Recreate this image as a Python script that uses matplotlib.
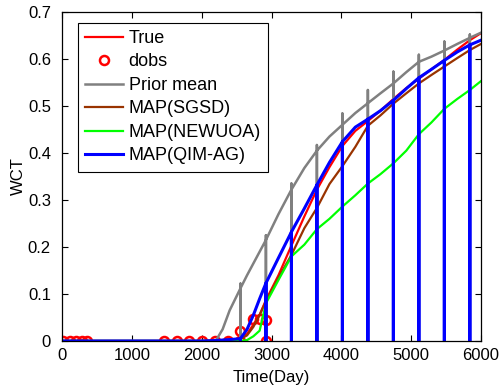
import numpy as np
import matplotlib
matplotlib.use("Agg")
import matplotlib.pyplot as plt
from matplotlib.ticker import FormatStrFormatter

plt.rcParams["font.family"] = ["Liberation Sans", "DejaVu Sans"]

# time grid (days) shared by all simulated curves
days = [0, 1000, 2000, 2200, 2300, 2400, 2555, 2650, 2740, 2830, 2920, 3100,
        3285, 3470, 3650, 3830, 4015, 4200, 4380, 4560, 4745, 4930, 5110,
        5290, 5475, 5660, 5840, 6000]

# report times where the curves drop to zero
report_days = [2555, 2920, 3285, 3650, 4015, 4380, 4745, 5110, 5475, 5840]

wct_true = [0, 0, 0, 0.001, 0.002, 0.003, 0.005, 0.015, 0.035, 0.056, 0.087, 0.14,
            0.203, 0.265, 0.322, 0.37, 0.415, 0.447, 0.468, 0.49, 0.515, 0.538,
            0.558, 0.578, 0.598, 0.62, 0.64, 0.655]
wct_prior = [0, 0, 0, 0, 0.025, 0.065, 0.112, 0.14, 0.165, 0.19, 0.215, 0.27,
             0.322, 0.368, 0.405, 0.435, 0.46, 0.485, 0.506, 0.527, 0.548, 0.572,
             0.594, 0.605, 0.618, 0.632, 0.645, 0.656]
prior_tops = [0.122, 0.225, 0.335, 0.417, 0.484, 0.534, 0.573, 0.609, 0.637, 0.652]
wct_sgsd = [0, 0, 0, 0.001, 0.002, 0.003, 0.004, 0.012, 0.03, 0.055, 0.085, 0.135,
            0.183, 0.24, 0.283, 0.334, 0.372, 0.413, 0.458, 0.48, 0.505, 0.527,
            0.548, 0.566, 0.584, 0.602, 0.619, 0.632]
wct_newuoa = [0, 0, 0, 0, 0, 0, 0, 0.002, 0.01, 0.022, 0.08, 0.13,
              0.18, 0.205, 0.238, 0.26, 0.286, 0.31, 0.335, 0.355, 0.378, 0.405,
              0.44, 0.465, 0.494, 0.515, 0.534, 0.553]
wct_qim = [0, 0, 0, 0.001, 0.002, 0.003, 0.005, 0.025, 0.055, 0.09, 0.123, 0.177,
           0.232, 0.282, 0.332, 0.38, 0.424, 0.455, 0.472, 0.49, 0.512, 0.537,
           0.56, 0.578, 0.597, 0.615, 0.63, 0.64]

dobs_days = [20, 110, 200, 280, 360, 1460, 1643, 1825, 2008, 2190, 2373, 2555,
             2555, 2740, 2830, 2920, 2920]
dobs_wct = [0, 0, 0, 0, 0, 0, 0, 0, 0, 0, 0, 0,
            0.022, 0.047, 0.046, 0.045, 0]


def with_spikes(t, v, tops=None):
    xs, ys = [], []
    k = 0
    for ti, vi in zip(t, v):
        if ti in report_days:
            top = tops[k] if tops is not None else vi
            k += 1
            xs += [ti, ti, ti, ti]
            ys += [vi, top, 0, vi]
        else:
            xs.append(ti)
            ys.append(vi)
    return xs, ys


fig = plt.figure(figsize=(5.01, 3.92), dpi=100)
ax = fig.add_axes([0.1238, 0.1301, 0.8363, 0.8393])

ax.plot(*with_spikes(days, wct_true), color="#ff0000", lw=1.6, label="True")
ax.plot(dobs_days, dobs_wct, "o", mfc="none", mec="#ff0000", mew=1.8, ms=6.5,
        label="dobs")
ax.plot(*with_spikes(days, wct_prior, prior_tops), color="#808080", lw=1.8,
        label="Prior mean")
ax.plot(*with_spikes(days, wct_sgsd), color="#993300", lw=1.6, label="MAP(SGSD)")
ax.plot(*with_spikes(days, wct_newuoa), color="#00ff00", lw=1.6,
        label="MAP(NEWUOA)")
ax.plot(*with_spikes(days, wct_qim), color="#0000ff", lw=2.2, label="MAP(QIM-AG)")

ax.set_xlim(0, 6000)
ax.set_ylim(0, 0.7)
ax.set_xticks(np.arange(0, 6001, 1000))
ax.set_yticks(np.arange(0, 0.71, 0.1))
ax.yaxis.set_major_formatter(FormatStrFormatter("%g"))
ax.tick_params(direction="in", top=True, right=True, labelsize=12, length=4,
               width=0.8)
ax.tick_params(axis="x", pad=5)
ax.tick_params(axis="y", pad=8)
for s in ax.spines.values():
    s.set_linewidth(0.9)
ax.set_xlabel("Time(Day)", fontsize=12, labelpad=5)
ax.set_ylabel("WCT", fontsize=12, labelpad=1)

leg = ax.legend(loc="upper left", bbox_to_anchor=(16 / 419, 1 - 10.7 / 329),
                fontsize=13, numpoints=1, handlelength=2.1,
                handletextpad=0.3, labelspacing=0.36, borderpad=0.4,
                borderaxespad=0, fancybox=False, framealpha=1,
                edgecolor="black")
leg.get_frame().set_linewidth(0.8)

plt.savefig("out.png", dpi=100)
plt.close()
